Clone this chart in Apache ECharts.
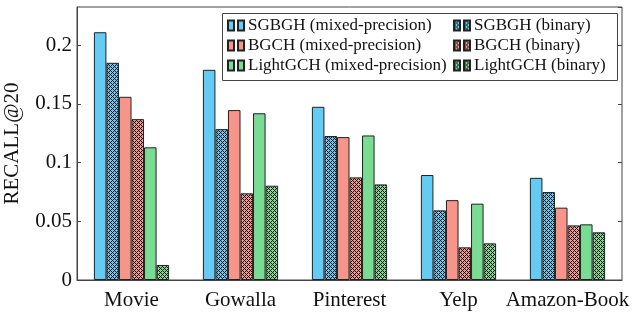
<!DOCTYPE html>
<html>
<head>
<meta charset="utf-8">
<script src="https://cdn.jsdelivr.net/npm/echarts@6/dist/echarts.min.js"></script>
<style>html,body{margin:0;padding:0;background:#fff}#c{width:640px;height:314px}</style>
</head>
<body>
<div id="c"></div>
<script>
const categories = ['Movie', 'Gowalla', 'Pinterest', 'Yelp', 'Amazon-Book'];
const seriesNames = ['SGBGH (mixed-precision)', 'SGBGH (binary)', 'BGCH (mixed-precision)', 'BGCH (binary)', 'LightGCH (mixed-precision)', 'LightGCH (binary)'];
const sgbghMixed = [0.211, 0.179, 0.1475, 0.0894, 0.087];
const sgbghBinary = [0.185, 0.1285, 0.1226, 0.0593, 0.0749];
const bgchMixed = [0.156, 0.1447, 0.1217, 0.068, 0.0616];
const bgchBinary = [0.137, 0.0738, 0.0874, 0.0278, 0.0465];
const lightMixed = [0.113, 0.142, 0.1231, 0.065, 0.0474];
const lightBinary = [0.0128, 0.0803, 0.0814, 0.0312, 0.0406];
const yTicks = [0, 0.05, 0.1, 0.15, 0.2];

const blue = '#64CBF5', red = '#F8958A', green = '#7ADB93';
function hatch(color) {
  const c = document.createElement('canvas');
  c.width = 4; c.height = 4;
  const g = c.getContext('2d');
  g.fillStyle = color; g.fillRect(0, 0, 4, 4);
  g.fillStyle = '#0d0d0d';
  for (let x = 0; x < 4; x++) for (let y = 0; y < 4; y++) {
    if ((x + y) % 4 === 0 || ((x - y) % 4 + 4) % 4 === 0) g.fillRect(x, y, 1, 1);
  }
  return { image: c, repeat: 'repeat' };
}
const fills = [blue, hatch(blue), red, hatch(red), green, hatch(green)];
const dataArr = [sgbghMixed, sgbghBinary, bgchMixed, bgchBinary, lightMixed, lightBinary];

const font = 'Liberation Serif';
const chart = echarts.init(document.getElementById('c'), null, { renderer: 'canvas' });
const icon = 'path://M0,0H6V10H0Z M10,0H16V10H10Z';
const legendCommon = {
  orient: 'vertical', top: 17, itemWidth: 16, itemHeight: 10, itemGap: 3, icon: icon,
  textStyle: { fontFamily: font, fontSize: 17, color: '#111', lineHeight: 17, padding: [0, 0, 0, -1] },
  padding: 0
};
chart.setOption({
  animation: false,
  grid: { left: 77, right: 18, top: 7, bottom: 34, show: true, borderColor: '#444', borderWidth: 1, outerBoundsMode: 'none', containLabel: false },
  legend: [
    Object.assign({}, legendCommon, { left: 227, data: [seriesNames[0], seriesNames[2], seriesNames[4]] }),
    Object.assign({}, legendCommon, { left: 453, data: [seriesNames[1], seriesNames[3], seriesNames[5]] })
  ],
  graphic: [{ type: 'rect', left: 222, top: 13, shape: { width: 395, height: 67 }, style: { fill: 'rgba(0,0,0,0)', stroke: '#444', lineWidth: 1 }, z: 100 }],
  xAxis: [
    { type: 'category', data: categories, axisLine: { show: true, lineStyle: { color: '#444' } },
      axisTick: { inside: true, alignWithLabel: true, length: 4, lineStyle: { color: '#444' } },
      axisLabel: { fontFamily: font, fontSize: 21, color: '#111', margin: 10, interval: 0, hideOverlap: false } },
    { type: 'category', data: categories, position: 'top', axisLine: { show: false },
      axisTick: { inside: true, alignWithLabel: true, length: 4, lineStyle: { color: '#444' } },
      axisLabel: { show: false } }
  ],
  yAxis: [
    { type: 'value', min: 0, max: 0.2325, interval: 0.05, name: 'RECALL@20', nameLocation: 'middle', nameGap: 54,
      nameTextStyle: { fontFamily: font, fontSize: 21, color: '#111' },
      axisLine: { show: true, lineStyle: { color: '#444' } }, splitLine: { show: false },
      axisTick: { show: true, inside: true, length: 4, lineStyle: { color: '#444' } },
      axisLabel: { fontFamily: font, fontSize: 21, color: '#111', margin: 5, showMaxLabel: false,
        formatter: v => { const t = yTicks.find(x => Math.abs(x - v) < 1e-9); return t === undefined ? '' : String(t); } } },
    { type: 'value', min: 0, max: 0.2325, interval: 0.05, position: 'right', axisLine: { show: false }, splitLine: { show: false },
      axisTick: { show: true, inside: true, length: 4, lineStyle: { color: '#444' } }, axisLabel: { show: false } }
  ],
  series: seriesNames.map((n, i) => ({
    name: n, type: 'bar', data: dataArr[i], barGap: '0%', barCategoryGap: '31%',
    itemStyle: { color: fills[i], borderColor: '#222', borderWidth: 1 }
  }))
});
</script>
</body>
</html>
